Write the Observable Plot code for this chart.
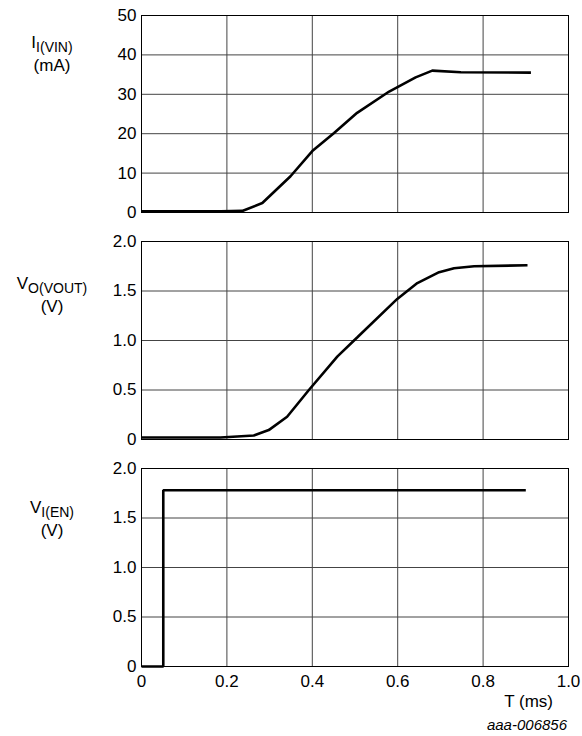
<!DOCTYPE html>
<html>
<head>
<meta charset="utf-8">
<script src="https://cdn.jsdelivr.net/npm/d3@7"></script>
<script src="https://cdn.jsdelivr.net/npm/@observablehq/plot@0.6"></script>
<style>
  html, body { margin: 0; padding: 0; background: #fff; }
  #wrap { position: relative; width: 582px; height: 736px; overflow: hidden; font-family: "Liberation Sans", Arial, sans-serif; }
  #wrap > svg.panel { position: absolute; left: 0; }
  #overlay { position: absolute; left: 0; top: 0; pointer-events: none; }
</style>
</head>
<body>
<div id="wrap"></div>
<script>
// ---- data ----
const xTicks = [0, 0.2, 0.4, 0.6, 0.8, 1.0];
const xGrid = [0.2, 0.4, 0.6, 0.8];

// Panel 1: input current I_I(VIN) in mA
const tVin = [0, 0.185, 0.236, 0.283, 0.349, 0.400, 0.451, 0.505, 0.580, 0.642, 0.681, 0.748, 0.912];
const iVin = [0.3, 0.3, 0.4, 2.4, 9.2, 15.6, 20.2, 25.3, 30.7, 34.3, 36.0, 35.6, 35.5];
const yTicks1 = [0, 10, 20, 30, 40, 50];

// Panel 2: output voltage V_O(VOUT) in V
const tVout = [0, 0.185, 0.263, 0.298, 0.341, 0.392, 0.459, 0.505, 0.599, 0.646, 0.697, 0.732, 0.779, 0.904];
const vOut = [0.02, 0.02, 0.04, 0.095, 0.23, 0.5, 0.84, 1.03, 1.42, 1.58, 1.69, 1.73, 1.75, 1.76];
const yTicksV = [0, 0.5, 1.0, 1.5, 2.0];

// Panel 3: enable voltage V_I(EN) in V
const tEn = [0, 0.051, 0.051, 0.90];
const vEn = [0, 0, 1.78, 1.78];

const xTitle = "T (ms)";
const caption = "aaa-006856";

// ---- build ----
const W = 582;
const fmtV = d => d === 0 ? "0" : d.toFixed(1);
const fmtX = d => d === 0 ? "0" : d.toFixed(1);
const series1 = tVin.map((t, i) => ({t, v: iVin[i]}));
const series2 = tVout.map((t, i) => ({t, v: vOut[i]}));
const series3 = tEn.map((t, i) => ({t, v: vEn[i]}));

function panel({data, yDomain, yTicks, yFmt, top, height, mt, mb, showX}) {
  const marks = [
    Plot.ruleX(xGrid, {stroke: "#444", strokeWidth: 1}),
    Plot.ruleY(yTicks.slice(1, -1), {stroke: "#444", strokeWidth: 1}),
    Plot.frame({stroke: "#000", strokeWidth: 1}),
    Plot.axisY({ticks: yTicks, tickSize: 0, tickPadding: 5, tickFormat: yFmt, label: null, fontSize: 17}),
    Plot.line(data, {x: "t", y: "v", stroke: "#000", strokeWidth: 2.6, strokeLinejoin: "miter", strokeLinecap: "butt"})
  ];
  if (showX) {
    marks.push(Plot.axisX({ticks: xTicks, tickSize: 0, tickPadding: 8, tickFormat: fmtX, label: null, fontSize: 17}));
  }
  const svg = Plot.plot({
    width: W,
    height,
    marginLeft: 141,
    marginRight: 14,
    marginTop: mt,
    marginBottom: mb,
    x: {domain: [0, 1], axis: null},
    y: {domain: yDomain, axis: null},
    style: {fontFamily: "'Liberation Sans', Arial, sans-serif", fontSize: "17px", color: "#000", background: "transparent", overflow: "visible"},
    marks
  });
  svg.classList.add("panel");
  svg.style.top = top + "px";
  return svg;
}

const wrap = document.getElementById("wrap");
wrap.appendChild(panel({data: series1, yDomain: [0, 50], yTicks: yTicks1, yFmt: d => String(d), top: 0, height: 228, mt: 15, mb: 16, showX: false}));
wrap.appendChild(panel({data: series2, yDomain: [0, 2], yTicks: yTicksV, yFmt: fmtV, top: 228, height: 228, mt: 13, mb: 17, showX: false}));
wrap.appendChild(panel({data: series3, yDomain: [0, 2], yTicks: yTicksV, yFmt: fmtV, top: 456, height: 280, mt: 12, mb: 70, showX: true}));

// ---- text overlay: axis titles with subscripts, x title, caption ----
const ov = d3.select(wrap).append("svg").attr("id", "overlay").attr("width", W).attr("height", 736)
  .style("font-family", "'Liberation Sans', Arial, sans-serif").attr("fill", "#000");

function yTitle(cx, y1, main, sub, unit) {
  const t = ov.append("text").attr("x", cx).attr("y", y1).attr("text-anchor", "middle").attr("font-size", 17);
  t.append("tspan").text(main);
  t.append("tspan").attr("font-size", 14).attr("dy", 4).text(sub);
  ov.append("text").attr("x", cx).attr("y", y1 + 23).attr("text-anchor", "middle").attr("font-size", 17).text(unit);
}
yTitle(52, 48, "I", "I(VIN)", "(mA)");
yTitle(52, 289, "V", "O(VOUT)", "(V)");
yTitle(52, 513, "V", "I(EN)", "(V)");

ov.append("text").attr("x", 553).attr("y", 707).attr("text-anchor", "end").attr("font-size", 17).text(xTitle);
ov.append("text").attr("x", 567).attr("y", 730).attr("text-anchor", "end").attr("font-size", 15).attr("font-style", "italic").text(caption);
</script>
</body>
</html>
